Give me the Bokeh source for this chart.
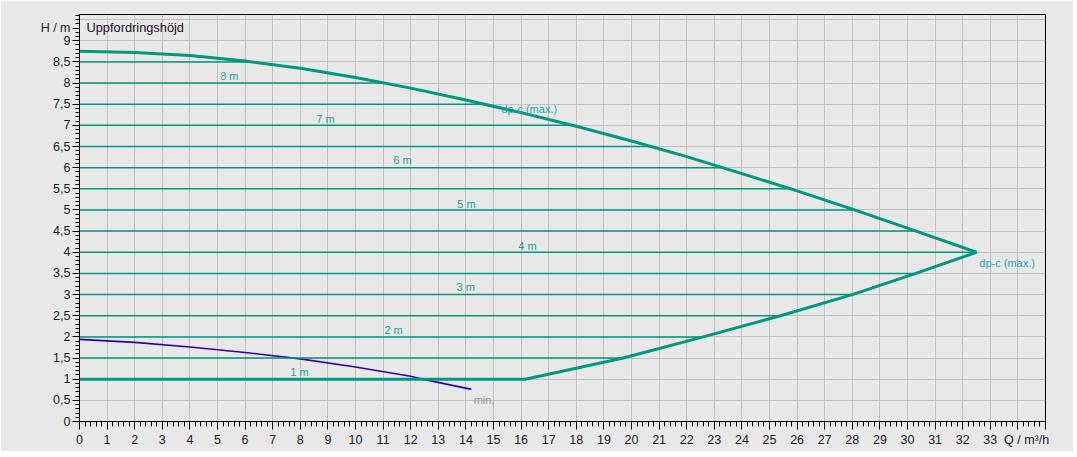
import numpy as np
from bokeh.plotting import figure
from bokeh.models import (ColumnDataSource, Label, SingleIntervalTicker, FixedTicker,
                          CustomJSTickFormatter, Range1d)
from bokeh.core.properties import value
from bokeh.embed import file_html
from bokeh.resources import INLINE

# ---- data ----
# dp-c (max.) upper curve
q_max = [0, 2, 4, 6, 8, 10, 12, 14, 16, 18, 20, 22, 24, 26, 28, 30, 32.5]
h_max = [8.75, 8.72, 8.65, 8.52, 8.35, 8.13, 7.88, 7.6, 7.3, 6.98, 6.63, 6.26,
         5.86, 5.45, 5.02, 4.57, 4.0]
# dp-c lower boundary (1 m line + rising branch)
q_low = [0, 16.15, 19.7, 22.6, 25.4, 28.0, 30.3, 32.5]
h_low = [1.0, 1.0, 1.5, 2.0, 2.5, 3.0, 3.5, 4.0]
# min. curve
q_min = [0, 2, 4, 6, 8, 10, 12, 12.3, 14.2]
h_min = [1.94, 1.87, 1.76, 1.63, 1.48, 1.29, 1.07, 1.02, 0.76]
# constant-pressure iso lines
iso_levels = [1.5, 2.0, 2.5, 3.0, 3.5, 4.0, 4.5, 5.0, 5.5, 6.0, 6.5, 7.0, 7.5, 8.0, 8.5]
# iso labels
lab_text = ["8 m", "7 m", "6 m", "5 m", "4 m", "3 m", "2 m", "1 m"]
lab_q = [5.43, 8.91, 11.70, 14.02, 16.23, 13.99, 11.38, 7.97]
lab_h = [8.16, 7.16, 6.17, 5.15, 4.16, 3.17, 2.17, 1.16]
# axis titles
y_title = "H / m"
x_title = "Q / m³/h"

TEAL = "#00997f"
BG = "#e8e8e8"
FONT = "Liberation Sans"

p = figure(frame_width=966, frame_height=407,
           x_range=Range1d(0, 35), y_range=Range1d(0, 9.62),
           output_backend="svg", toolbar_location=None,
           background_fill_color=BG, border_fill_color=BG,
           min_border_left=79, min_border_top=14, min_border_right=28,
           min_border_bottom=30)

p.outline_line_color = "black"
p.outline_line_width = 1

xt = SingleIntervalTicker(interval=1, num_minor_ticks=5)
yt = SingleIntervalTicker(interval=0.5, num_minor_ticks=5)
y_major = [round(0.5 * i, 2) for i in range(19)] + [9.3]
y_minor = [round(0.1 * i, 2) for i in range(97)]
p.xaxis.ticker = xt
p.yaxis.ticker = FixedTicker(ticks=y_major, minor_ticks=y_minor)
p.xgrid.ticker = xt
p.ygrid.ticker = yt
p.xgrid.grid_line_color = "#c0c0c0"
p.ygrid.grid_line_color = "#c0c0c0"
p.xgrid.grid_line_width = 1
p.ygrid.grid_line_width = 1

p.xaxis.formatter = CustomJSTickFormatter(
    args=dict(t=x_title),
    code="""
if (tick >= 34.5) return '';
if (tick >= 33.5) return '\\u00a0\\u00a0\\u00a0\\u00a0\\u00a0' + t;
return tick.toFixed(0);""")
p.yaxis.formatter = CustomJSTickFormatter(
    args=dict(t=y_title),
    code="""
if (Math.abs(tick - 9.3) < 1e-6) return t;
if (tick > 9.2) return '';
if (Math.abs(tick - Math.round(tick)) < 1e-6) return tick.toFixed(0);
return tick.toFixed(1).replace('.', ',');
""")

for ax in (p.xaxis[0], p.yaxis[0]):
    ax.axis_line_color = "black"
    ax.axis_line_width = 1
    ax.major_tick_line_color = "black"
    ax.minor_tick_line_color = "black"
    ax.major_label_text_font = FONT
    ax.major_label_text_font_size = "12.5px"
    ax.major_label_text_color = "#1c1c24"
    ax.major_tick_in = 0
    ax.minor_tick_in = 0

p.yaxis.major_tick_out = 7
p.yaxis.minor_tick_out = 4
p.yaxis.major_label_standoff = 2
p.xaxis.major_tick_out = 8
p.xaxis.minor_tick_out = 5
p.xaxis.major_label_standoff = 3

# min curve (under the teal lines)
p.line(q_min, h_min, line_color="#3300aa", line_width=1.6)

# iso lines ending at the envelope
up_q = np.array(q_max)[::-1]
up_h = np.array(h_max)[::-1]
ends = []
for h in iso_levels:
    if h >= 4.0:
        ends.append(float(np.interp(h, up_h, up_q)))
    else:
        ends.append(float(np.interp(h, np.array(h_low[1:]), np.array(q_low[1:]))))
p.segment(x0=[0] * len(iso_levels), y0=iso_levels, x1=ends, y1=iso_levels,
          line_color=TEAL, line_width=1.5)

# envelope curves
p.line(q_low, h_low, line_color=TEAL, line_width=3)
p.line(q_max, h_max, line_color=TEAL, line_width=3)

# iso labels
src = ColumnDataSource(dict(x=lab_q, y=lab_h, t=lab_text))
p.text(x="x", y="y", text="t", source=src, text_font=value(FONT),
       text_font_size="11px", text_color="#1aa396",
       text_align="center", text_baseline="middle")

p.add_layout(Label(x=15.29, y=7.39, text="dp-c (max.)", text_font=FONT,
                   text_font_size="11px", text_color="#22a8a8",
                   text_align="left", text_baseline="middle"))
p.add_layout(Label(x=32.6, y=3.74, text="dp-c (max.)", text_font=FONT,
                   text_font_size="11px", text_color="#22a8a8",
                   text_align="left", text_baseline="middle"))
p.add_layout(Label(x=14.28, y=0.52, text="min.", text_font=FONT,
                   text_font_size="11px", text_color="#9a98a0",
                   text_align="left", text_baseline="middle"))

# chart title
p.add_layout(Label(x=0, y=9.31, x_offset=7, text="Uppfordringshöjd", text_font=FONT,
                   text_font_size="12.8px", text_color="#2a0a2a",
                   text_align="left", text_baseline="middle"))

html = file_html(p, INLINE)
html = html.replace("<body>", '<body style="background-color:#e8e8e8;">', 1)
open("out.html", "w").write(html)
